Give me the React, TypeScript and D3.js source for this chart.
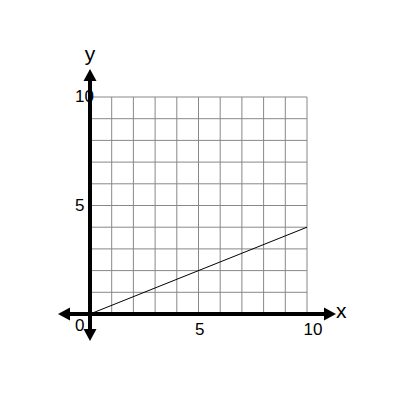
import * as d3 from "d3";

// Chart values
const xTicks = [5, 10];
const yTicks = [5, 10];
const gridValues = d3.range(0, 11);
const lineX = [0, 10];
const lineY = [0, 4];
const axisLabels = { x: "x", y: "y" };

const width = 400;
const height = 400;

const App = () => {
  const x = d3.scaleLinear().domain([0, 10]).range([90, 307]);
  const y = d3.scaleLinear().domain([0, 10]).range([314, 97]);

  const line = d3
    .line<number>()
    .x((d) => x(d))
    .y((_, i) => y(lineY[i]));

  const x0 = x(0);
  const y0 = y(0);
  const head = 12;
  const half = 6.5;

  // axis extents (arrow tips)
  const left = x0 - 32;
  const right = x(10) + 29;
  const top = y(10) - 28;
  const bottom = y0 + 27;

  return (
    <svg
      width={width}
      height={height}
      viewBox={`0 0 ${width} ${height}`}
      style={{ position: "absolute", left: 0, top: 0, fontFamily: "'Liberation Sans', Arial, sans-serif" }}
    >
      <rect width={width} height={height} fill="#fff" />
      <g stroke="#888" strokeWidth={1}>
        {gridValues.map((v) => (
          <line key={"gx" + v} x1={x(v)} x2={x(v)} y1={y(0)} y2={y(10)} />
        ))}
        {gridValues.map((v) => (
          <line key={"gy" + v} x1={x(0)} x2={x(10)} y1={y(v)} y2={y(v)} />
        ))}
      </g>
      <path d={line(lineX) ?? ""} fill="none" stroke="#000" strokeWidth={1} />
      <g stroke="#000" strokeWidth={4}>
        <line x1={left + head} x2={right - head} y1={y0} y2={y0} />
        <line x1={x0} x2={x0} y1={top + head} y2={bottom - head} />
      </g>
      <g fill="#000">
        <polygon points={`${left},${y0} ${left + head},${y0 - half} ${left + head},${y0 + half}`} />
        <polygon points={`${right},${y0} ${right - head},${y0 - half} ${right - head},${y0 + half}`} />
        <polygon points={`${x0},${top} ${x0 - half},${top + head} ${x0 + half},${top + head}`} />
        <polygon points={`${x0},${bottom} ${x0 - half},${bottom - head} ${x0 + half},${bottom - head}`} />
      </g>
      <g fontSize={17} fill="#000">
        {yTicks.map((v) => (
          <text key={"ty" + v} x={x0 - 15} y={y(v) + 5}>
            {v}
          </text>
        ))}
        <text x={x0 - 15} y={y0 + 17}>
          0
        </text>
        {xTicks.map((v) => (
          <text key={"tx" + v} x={x(v) - 3.5} y={y0 + 21}>
            {v}
          </text>
        ))}
      </g>
      <g fontSize={21} fill="#000">
        <text x={right} y={y0 + 4}>
          {axisLabels.x}
        </text>
        <text x={x0} y={top - 8} textAnchor="middle">
          {axisLabels.y}
        </text>
      </g>
    </svg>
  );
};

export default App;
